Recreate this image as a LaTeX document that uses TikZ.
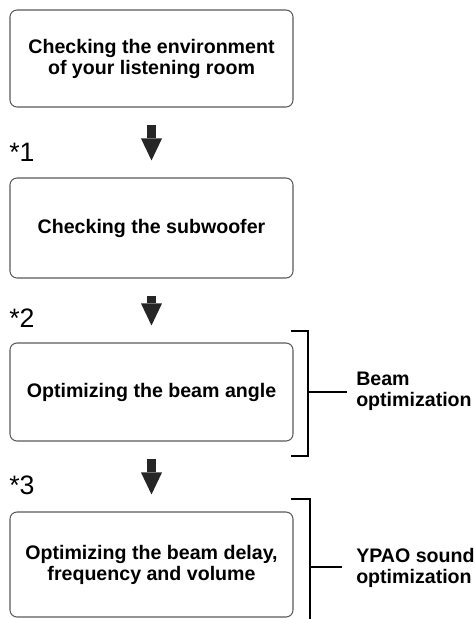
\documentclass[tikz,border=0pt]{standalone}
\usepackage{fontspec}
\setmainfont{Liberation Sans}
\usetikzlibrary{arrows.meta}
\newlength\pxu
\setlength\pxu{0.75pt}
\begin{document}
\begin{tikzpicture}[x=\pxu,y=-\pxu,
  stepbox/.style={draw=black!65, line width=0.8pt, rounded corners=5.25pt,
    minimum width=212.25pt, align=center, inner sep=0pt,
    font=\fontsize{14.7}{15.75}\selectfont\bfseries},
  flow/.style={line width=6.75pt, draw=black!85,
    -{Triangle[width=15.75pt,length=16.5pt,line width=0pt]},
    shorten <=12.75pt, shorten >=12.75pt},
  brk/.style={line width=1.1pt, draw=black},
  side/.style={anchor=west, align=left, inner sep=0pt,
    font=\fontsize{14.7}{15.75}\selectfont\bfseries},
  star/.style={anchor=base west, inner sep=0pt,
    font=\fontsize{20}{24}\selectfont}]
\useasboundingbox (0,0) rectangle (475,619);

\node[stepbox, minimum height=72.75pt] (b1) at (151.5,58.5) {Checking the environment\\of your listening room};
\node[stepbox, minimum height=75pt]    (b2) at (151.5,228)  {Checking the subwoofer};
\node[stepbox, minimum height=73.5pt]  (b3) at (151.5,392)  {Optimizing the beam angle};
\node[stepbox, minimum height=78.75pt] (b4) at (151.5,564.5) {Optimizing the beam delay,\\frequency and volume};

\draw[flow] (b1) -- (b2);
\draw[flow] (b2) -- (b3);
\draw[flow] (b3) -- (b4);

\node[star] (s1) at (9,161) {*1};
\node[star] (s2) at (9,327) {*2};
\node[star] (s3) at (9,494) {*3};

% bracket 1
\coordinate (k1a) at (291,331);
\coordinate (k1b) at (308,331);
\coordinate (k1c) at (308,456);
\coordinate (k1d) at (291,456);
\coordinate (k1m) at (308,392);
\coordinate (k1e) at (347,392);
\draw[brk] (k1a) -- (k1b) -- (k1c) -- (k1d);
\draw[brk] (k1m) -- (k1e);
\node[side] (l1) at (356,391) {Beam\\optimization};

% bracket 2
\coordinate (k2a) at (291,499);
\coordinate (k2b) at (310,499);
\coordinate (k2c) at (310,619);
\coordinate (k2m) at (310,567);
\coordinate (k2e) at (342,567);
\draw[brk] (k2a) -- (k2b) -- (k2c);
\draw[brk] (k2m) -- (k2e);
\node[side] (l2) at (356,568) {YPAO sound\\optimization};
\end{tikzpicture}
\end{document}
